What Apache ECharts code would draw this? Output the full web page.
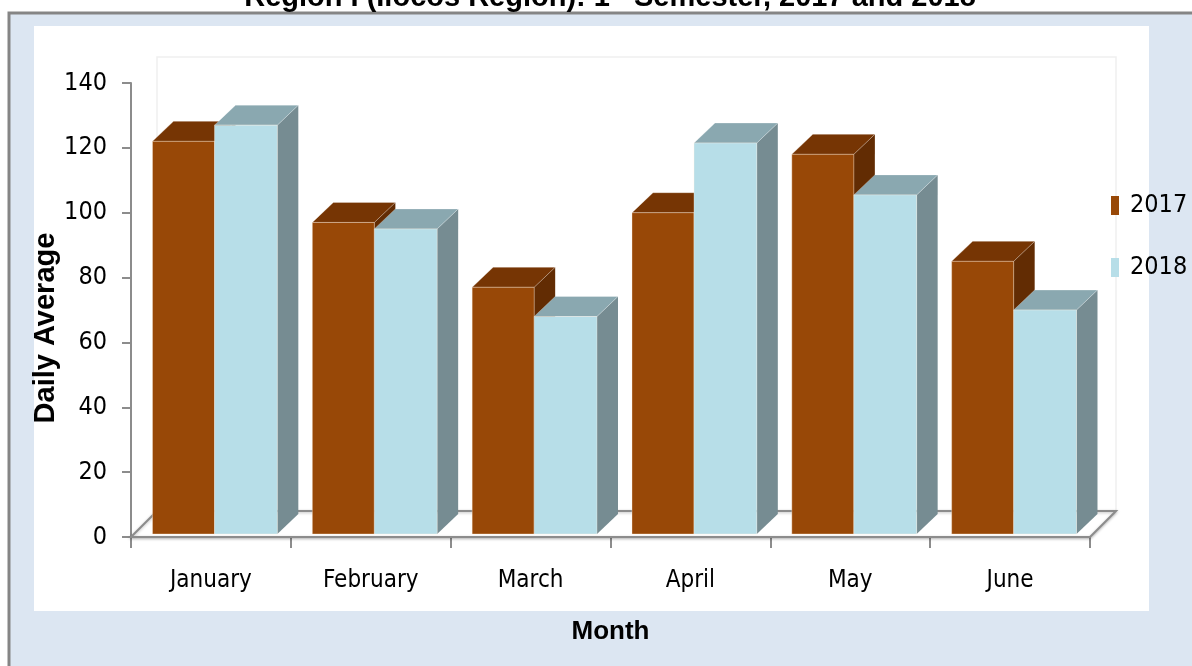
<!DOCTYPE html>
<html>
<head>
<meta charset="utf-8">
<style>
  html, body { margin: 0; padding: 0; background: #fff; }
  #chart { width: 1192px; height: 666px; }
</style>
<script src="https://cdn.jsdelivr.net/npm/echarts@6/dist/echarts.min.js"></script>
</head>
<body>
<div id="chart"></div>
<script>
// values
const months = ['January', 'February', 'March', 'April', 'May', 'June']
const year2017 = [122, 97, 77, 100, 118, 85]
const year2018 = [127, 95, 68, 121.5, 105.5, 70]
const yTicks = [0, 20, 40, 60, 80, 100, 120, 140]

const narrow = '"DejaVu Sans Condensed", "Liberation Sans", sans-serif'
const arial = '"Liberation Sans", Arial, sans-serif'
const DX = 21, DY = 20      // bar depth
const FD = 26               // floor depth

function bar3d (f0, f1, front, top, side) {
    return function (params, api) {
        let i = api.value(0)
        let c = api.coord([i, api.value(1)])
        let base = api.coord([i, 0])
        let bw = api.size([1, 0])[0]
        let bs = c[0] - bw / 2
        let x0 = bs + f0 * bw, x1 = bs + f1 * bw
        let yt = c[1], yb = base[1] - 3
        return {
            type: 'group',
            children: [
                {type: 'polygon', shape: {points: [[x1, yb], [x1 + DX, yb - DY], [x1 + DX, yt - DY], [x1, yt]]}, style: {fill: side}},
                {type: 'polygon', shape: {points: [[x0, yt], [x0 + DX, yt - DY], [x1 + DX, yt - DY], [x1, yt]]}, style: {fill: top, stroke: 'rgba(255,255,255,0.35)', lineWidth: 0.8}},
                {type: 'rect', shape: {x: x0, y: yt, width: x1 - x0, height: yb - yt}, style: {fill: front, stroke: 'rgba(255,240,225,0.45)', lineWidth: 0.8}}
            ]
        }
    }
}

function floor (params, api) {
    let cs = params.coordSys
    let x = cs.x, y = cs.y, w = cs.width, h = cs.height
    return {
        type: 'group',
        children: [
            {type: 'rect', shape: {x: x + FD, y: y - FD, width: w, height: h}, style: {fill: 'none', stroke: '#f0f0f0', lineWidth: 1.5}},
            {type: 'polygon', shape: {points: [[x, y + h], [x + w, y + h], [x + w + FD, y + h - FD], [x + FD, y + h - FD]]},
                style: {fill: '#fff', stroke: '#8c8c8c', lineWidth: 2, shadowBlur: 3, shadowColor: 'rgba(0,0,0,0.25)', shadowOffsetY: 1}}
        ]
    }
}

let chart = echarts.init(document.getElementById('chart'))
chart.setOption({
    animation: false,
    backgroundColor: '#fff',
    graphic: [
        {type: 'rect', z: -20, shape: {x: 9, y: 13, width: 1200, height: 670}, style: {fill: '#dce6f2', stroke: '#858585', lineWidth: 3}},
        {type: 'rect', z: -19, shape: {x: 34, y: 26, width: 1115, height: 585}, style: {fill: '#fff'}},
        {type: 'text', z: 50, x: 610, y: -2, style: {
            text: 'Region I (Ilocos Region): 1{s|st} Semester, 2017 and 2018',
            font: 'bold 29px ' + arial, fill: '#000',
            align: 'center', verticalAlign: 'middle',
            rich: {s: {font: 'bold 18px ' + arial, verticalAlign: 'top', fill: '#000'}}
        }},
        {type: 'text', z: 50, x: 46, y: 328, rotation: Math.PI / 2, style: {
            text: 'Daily Average', font: 'bold 29px ' + arial, fill: '#000',
            align: 'center', verticalAlign: 'middle'
        }}
    ],
    legend: {
        orient: 'vertical', left: 1106, top: 188,
        itemWidth: 8, itemHeight: 19, itemGap: 37, icon: 'rect',
        textStyle: {fontFamily: narrow, fontSize: 25, color: '#000', padding: [0, 0, 0, 6]},
        data: ['2017', '2018']
    },
    grid: {left: 131, right: 102, top: 83, bottom: 129, containLabel: false},
    xAxis: {
        type: 'category', data: months,
        name: 'Month', nameLocation: 'middle', nameGap: 82,
        nameTextStyle: {fontFamily: arial, fontSize: 26, fontWeight: 'bold', color: '#000'},
        axisLine: {show: true, lineStyle: {color: '#8c8c8c', width: 2}},
        axisTick: {show: true, length: 11, lineStyle: {color: '#8c8c8c', width: 2}},
        axisLabel: {fontFamily: narrow, fontSize: 24, color: '#000', margin: 32, interval: 0},
        splitLine: {show: false}
    },
    yAxis: {
        type: 'value', min: yTicks[0], max: yTicks[yTicks.length - 1], interval: 20,
        axisLine: {show: true, lineStyle: {color: '#8c8c8c', width: 2}},
        axisTick: {show: true, length: 9, lineStyle: {color: '#8c8c8c', width: 2}},
        axisLabel: {fontFamily: narrow, fontSize: 25, color: '#000', margin: 24},
        splitLine: {show: false}
    },
    series: [
        {type: 'custom', name: 'floor', silent: true, z: 1, data: [[0, 0]], renderItem: floor},
        {type: 'custom', name: '2017', z: 3, itemStyle: {color: '#984807'},
            data: year2017.map((v, i) => [i, v]),
            renderItem: bar3d(0.1345, 0.5225, '#984807', '#763504', '#622c03')},
        {type: 'custom', name: '2018', z: 4, itemStyle: {color: '#b7dee8'},
            data: year2018.map((v, i) => [i, v]),
            renderItem: bar3d(0.5225, 0.9155, '#b7dee8', '#8aa8b0', '#768c92')}
    ]
})
</script>
</body>
</html>
